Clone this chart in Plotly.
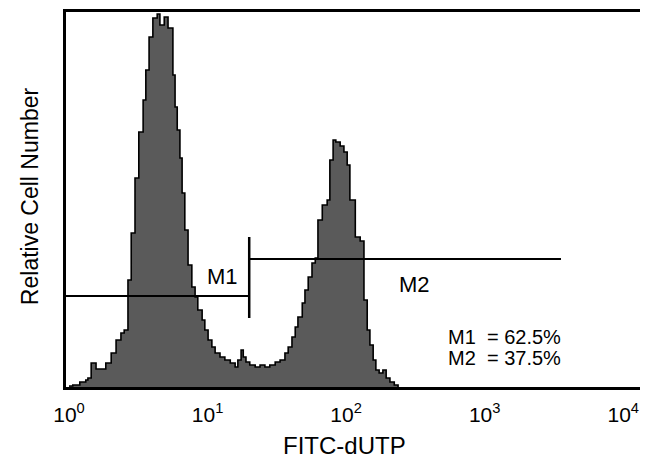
import plotly.graph_objects as go

# FACS histogram: 1024 log channels over 4 decades (256 channels per decade)
channel_edges = [0, 7, 20, 31, 35, 41, 50, 68, 78, 87, 96, 102, 109, 115, 122, 129,
                 137, 142, 148, 155, 163, 168, 176, 183, 192, 196, 200, 205, 209, 214,
                 220, 227, 233, 238, 246, 251, 257, 264, 270, 279, 288, 298, 307, 312,
                 318, 322, 327, 334, 344, 353, 362, 371, 381, 390, 399, 405, 412, 418,
                 423, 431, 436, 442, 449, 455, 460, 468, 477, 482, 488, 493, 501, 508,
                 514, 519, 529, 538, 545, 551, 556, 562, 567, 573, 580, 586, 593, 601, 608]
cell_counts = [1, 2, 5, 7, 9, 24, 18, 24, 34, 47, 54, 57, 107, 154, 209, 255,
               287, 317, 350, 369, 373, 362, 370, 359, 312, 280, 257, 229, 194, 157,
               122, 100, 90, 77, 67, 57, 47, 40, 34, 30, 27, 24, 20, 27,
               37, 30, 25, 22, 20, 22, 20, 22, 25, 27, 34, 40, 50, 60,
               70, 84, 97, 110, 124, 129, 167, 182, 187, 227, 247, 245, 241, 235,
               222, 187, 150, 146, 87, 57, 42, 27, 17, 14, 17, 9, 5, 2, 0]

tick_channels = [0, 256, 512, 768, 1024]
tick_labels = ["10<sup>0</sup>", "10<sup>1</sup>", "10<sup>2</sup>", "10<sup>3</sup>", "10<sup>4</sup>"]

marker_names = ["M1", "M2"]
marker_gates = [[-5.5, 333], [333, 909]]
marker_levels = [91, 128]
marker_pct = ["62.5%", "37.5%"]

x_range = [-5.5, 1055]
y_range = [0, 375]

FONT = "Liberation Sans, Arial, Helvetica, sans-serif"

fig = go.Figure()
fig.add_trace(go.Scatter(
    x=channel_edges, y=cell_counts, mode="lines", line_shape="hv",
    line=dict(color="black", width=1.6),
    fill="tozeroy", fillcolor="#5a5a5a", hoverinfo="skip", showlegend=False,
))

shapes = []
for (x0, x1), lvl in zip(marker_gates, marker_levels):
    shapes.append(dict(type="line", x0=x0, x1=x1, y0=lvl, y1=lvl,
                       line=dict(color="black", width=2)))
# shared marker boundary bar
shapes.append(dict(type="line", x0=marker_gates[0][1], x1=marker_gates[0][1],
                   y0=69, y1=150, line=dict(color="black", width=2.5)))

annotations = [
    dict(x=283, y=111, text=marker_names[0], showarrow=False,
         xanchor="center", yanchor="middle",
         font=dict(size=22, color="black", family=FONT)),
    dict(x=638, y=103, text=marker_names[1], showarrow=False,
         xanchor="center", yanchor="middle",
         font=dict(size=22, color="black", family=FONT)),
    dict(xref="paper", yref="paper", x=-0.0627, y=0.509, textangle=-90,
         xanchor="center", yanchor="middle",
         text="Relative Cell Number", showarrow=False,
         font=dict(size=23, color="black", family=FONT)),
    dict(xref="paper", yref="paper", x=0.486, y=-0.155,
         xanchor="center", yanchor="middle",
         text="FITC-dUTP", showarrow=False,
         font=dict(size=24, color="black", family=FONT)),
]
for i, (nm, pct) in enumerate(zip(marker_names, marker_pct)):
    annotations.append(dict(
        x=697, y=50 - 21 * i, xanchor="left", yanchor="middle", showarrow=False,
        text=nm + "\u00a0\u00a0=\u00a0" + pct,
        font=dict(size=20, color="black", family=FONT)))

# page body has an 8px margin, so the figure is offset by 8px inside the window
fig.update_layout(
    width=640, height=452,
    margin=dict(l=58, r=8, t=4, b=73, autoexpand=False),
    paper_bgcolor="white", plot_bgcolor="white",
    font=dict(family=FONT, color="black"),
    shapes=shapes, annotations=annotations,
    xaxis=dict(range=x_range, showgrid=False, zeroline=False, automargin=False,
               showline=True, mirror=True, linecolor="black", linewidth=2.5,
               tickmode="array", tickvals=tick_channels, ticktext=tick_labels,
               ticks="", ticklabelstandoff=7, tickfont=dict(size=21, family=FONT)),
    yaxis=dict(range=y_range, showgrid=False, zeroline=False, automargin=False,
               showline=True, mirror=True, linecolor="black", linewidth=2.5,
               showticklabels=False, ticks=""),
)

fig.write_html("out.html")
